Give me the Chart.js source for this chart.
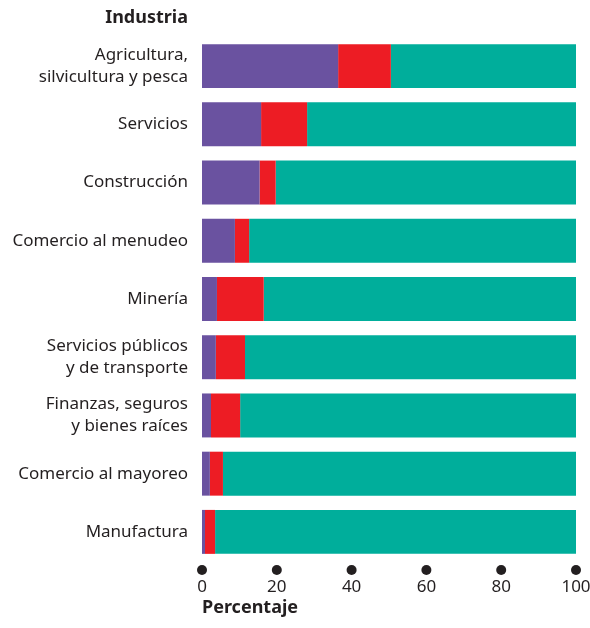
<!DOCTYPE html>
<html>
<head>
<meta charset="utf-8">
<script src="https://cdn.jsdelivr.net/npm/chart.js@4.4.0/dist/chart.umd.min.js"></script>
<style>
  html, body { margin: 0; padding: 0; background: #fff; }
  #wrap { width: 590px; height: 628px; position: relative; }
</style>
</head>
<body>
<div id="wrap"><canvas id="chart"></canvas></div>
<script>
const categories = [
  ['Agricultura,', 'silvicultura y pesca'],
  'Servicios',
  'Construcción',
  'Comercio al menudeo',
  'Minería',
  ['Servicios públicos', 'y de transporte'],
  ['Finanzas, seguros', 'y bienes raíces'],
  'Comercio al mayoreo',
  'Manufactura'
]
const purpleValues = [36.4, 15.8, 15.4, 8.8, 4.0, 3.7, 2.4, 2.1, 0.8]
const redValues = [14.1, 12.3, 4.3, 3.8, 12.5, 7.8, 7.8, 3.5, 2.7]
const tealValues = purpleValues.map((p, i) => +(100 - p - redValues[i]).toFixed(1))
const xTicks = [0, 20, 40, 60, 80, 100]

const FONT = "'Noto Sans', 'Lato', sans-serif"
const TEXT = '#231f20'

const extras = {
  id: 'extras',
  afterDraw(chart) {
    const { ctx, chartArea, scales } = chart
    ctx.save()
    // dots above tick labels
    ctx.fillStyle = TEXT
    scales.x.ticks.forEach((t, i) => {
      const x = scales.x.getPixelForTick(i)
      ctx.beginPath()
      ctx.arc(x, chartArea.bottom + 9, 5, 0, Math.PI * 2)
      ctx.fill()
    })
    // axis heading
    ctx.font = `bold 18px ${FONT}`
    ctx.textAlign = 'right'
    ctx.textBaseline = 'middle'
    ctx.fillText('Industria', 188, 18)
    ctx.restore()
  }
}

new Chart(document.getElementById('chart'), {
  type: 'bar',
  data: {
    labels: categories,
    datasets: [
      { data: purpleValues, backgroundColor: '#6a52a0' },
      { data: redValues, backgroundColor: '#ed1c24' },
      { data: tealValues, backgroundColor: '#00ae9b' }
    ]
  },
  options: {
    indexAxis: 'y',
    responsive: true,
    maintainAspectRatio: false,
    animation: false,
    layout: { padding: { top: 37, right: 0, left: 0, bottom: 0 } },
    datasets: { bar: { categoryPercentage: 1, barPercentage: 0.755, borderWidth: 0 } },
    plugins: {
      legend: { display: false },
      tooltip: { enabled: false }
    },
    scales: {
      x: {
        stacked: true,
        min: 0,
        max: 100,
        afterBuildTicks: (scale) => { scale.ticks = xTicks.map(v => ({ value: v })) },
        afterFit: (scale) => { scale.height = 67; scale.paddingRight = 14 },
        grid: { display: false, drawTicks: false },
        border: { display: false },
        ticks: { color: TEXT, font: { family: FONT, size: 17 }, padding: 16, maxRotation: 0 },
        title: {
          display: true,
          text: 'Percentaje',
          align: 'start',
          color: TEXT,
          font: { family: FONT, size: 18, weight: 'bold' },
          padding: { top: 0, bottom: 9 }
        }
      },
      y: {
        stacked: true,
        afterFit: (scale) => { scale.width = 202 },
        grid: { display: false, drawTicks: false },
        border: { display: false },
        ticks: { color: TEXT, font: { family: FONT, size: 17, lineHeight: 1.3 }, padding: 14 }
      }
    }
  },
  plugins: [extras]
})
</script>
</body>
</html>
